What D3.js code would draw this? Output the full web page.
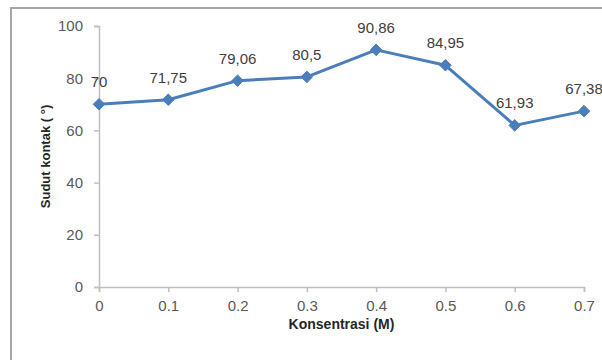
<!DOCTYPE html>
<html>
<head>
<meta charset="utf-8">
<script src="https://cdn.jsdelivr.net/npm/d3@7"></script>
<style>
  body { margin: 0; background: #fff; }
  svg { display: block; font-family: "Liberation Sans", Arial, sans-serif; }
</style>
</head>
<body>
<svg id="chart" width="602" height="360"></svg>
<script>
// data
var konsentrasi = [0, 0.1, 0.2, 0.3, 0.4, 0.5, 0.6, 0.7];
var sudut = [70, 71.75, 79.06, 80.5, 90.86, 84.95, 61.93, 67.38];
var labels = ['70', '71,75', '79,06', '80,5', '90,86', '84,95', '61,93', '67,38'];
var xTicks = [0, 0.1, 0.2, 0.3, 0.4, 0.5, 0.6, 0.7];
var yTicks = [0, 20, 40, 60, 80, 100];

var svg = d3.select('#chart');

// chart frame (runs off the right and bottom edge in the original)
svg.append('rect')
    .attr('x', 11).attr('y', 8)
    .attr('width', 620).attr('height', 380)
    .attr('fill', '#fff')
    .attr('stroke', '#a6a6a6')
    .attr('stroke-width', 2);

var x = d3.scaleLinear().domain([0, 0.7]).range([99, 584]);
var y = d3.scaleLinear().domain([0, 100]).range([287, 26]);

var axisColor = '#bfbfbf';
var tickText = '#595959';

var xAxis = svg.append('g')
    .attr('transform', 'translate(0,' + y(0) + ')')
    .call(d3.axisBottom(x).tickValues(xTicks).tickSize(5).tickPadding(8)
      .tickFormat(function(d){ return d === 0 ? '0' : d3.format('.1f')(d); }));

var yAxis = svg.append('g')
    .attr('transform', 'translate(' + x(0) + ',0)')
    .call(d3.axisLeft(y).tickValues(yTicks).tickSize(5).tickPadding(11));

[xAxis, yAxis].forEach(function(ax){
  ax.select('.domain').attr('stroke', axisColor).attr('stroke-width', 1.5);
  ax.selectAll('.tick line').attr('stroke', axisColor).attr('stroke-width', 1.5);
  ax.selectAll('.tick text')
    .attr('fill', tickText)
    .style('font-size', '15px')
    .style('font-family', '"Liberation Sans", Arial, sans-serif');
});

// axis titles
svg.append('text')
    .attr('x', (x(0) + x(0.7)) / 2)
    .attr('y', 329)
    .attr('text-anchor', 'middle')
    .attr('fill', '#262626')
    .style('font-size', '14px')
    .style('font-weight', 'bold')
    .text('Konsentrasi (M)');

svg.append('text')
    .attr('transform', 'translate(50,' + (y(0) + y(100)) / 2 + ') rotate(-90)')
    .attr('text-anchor', 'middle')
    .attr('fill', '#262626')
    .style('font-size', '13px')
    .style('font-weight', 'bold')
    .text('Sudut kontak ( °)');

var points = konsentrasi.map(function(k, i){ return {k: k, v: sudut[i], label: labels[i]}; });

var lineColor = '#4a7ebb';

svg.append('path')
    .datum(points)
    .attr('fill', 'none')
    .attr('stroke', lineColor)
    .attr('stroke-width', 3)
    .attr('stroke-linejoin', 'round')
    .attr('d', d3.line().x(function(d){ return x(d.k); }).y(function(d){ return y(d.v); }));

svg.selectAll('path.marker')
    .data(points)
  .enter().append('path')
    .attr('class', 'marker')
    .attr('transform', function(d){ return 'translate(' + x(d.k) + ',' + y(d.v) + ')'; })
    .attr('d', d3.symbol().type(d3.symbolDiamond2).size(85))
    .attr('fill', lineColor)
    .attr('stroke', lineColor)
    .attr('stroke-width', 1);

svg.selectAll('text.val')
    .data(points)
  .enter().append('text')
    .attr('class', 'val')
    .attr('x', function(d){ return x(d.k); })
    .attr('y', function(d){ return y(d.v) - 17; })
    .attr('text-anchor', 'middle')
    .attr('fill', '#404040')
    .style('font-size', '15px')
    .text(function(d){ return d.label; });
</script>
</body>
</html>
